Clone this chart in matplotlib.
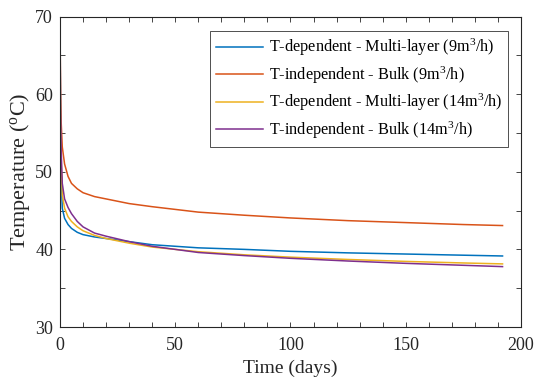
import matplotlib
matplotlib.use("Agg")
import matplotlib.pyplot as plt
from matplotlib.ticker import MultipleLocator

plt.rcParams["font.family"] = ["Liberation Serif", "DejaVu Serif"]
plt.rcParams["mathtext.fontset"] = "custom"
plt.rcParams["mathtext.rm"] = "Liberation Serif"
plt.rcParams["mathtext.it"] = "Liberation Serif:italic"

# time axis (days) shared by the curves
days = [0, 0.25, 0.5, 1, 2, 3.5, 5, 7.5, 10, 15, 20, 30, 40, 60, 80, 100, 125, 150, 175, 192]

dep_multi_9 = [70, 55, 50, 45.3, 44.0, 43.2, 42.7, 42.2, 41.9, 41.6, 41.4, 41.0, 40.6, 40.2,
               40.0, 39.75, 39.55, 39.4, 39.25, 39.15]
indep_bulk_9 = [70, 60, 56.5, 53.2, 51.0, 49.4, 48.5, 47.8, 47.3, 46.8, 46.5, 45.9, 45.5, 44.8,
                44.4, 44.05, 43.7, 43.45, 43.2, 43.07]
dep_multi_14 = [70, 56, 51.5, 47.0, 45.3, 44.2, 43.6, 42.9, 42.4, 41.8, 41.4, 40.8, 40.3, 39.7,
                39.3, 39.0, 38.7, 38.45, 38.25, 38.13]
# bulk 14 m3/h run starts from the 30 C ground temperature
days_bulk_14 = [0] + days
indep_bulk_14 = [30, 70, 58, 53, 48.5, 46.5, 45.4, 44.6, 43.6, 42.9, 42.1, 41.7, 41.0, 40.4, 39.6,
                 39.2, 38.85, 38.5, 38.2, 37.95, 37.78]

labels = [
    "T-dependent - Multi-layer (9m$^3$/h)",
    "T-independent - Bulk (9m$^3$/h)",
    "T-dependent - Multi-layer (14m$^3$/h)",
    "T-independent - Bulk (14m$^3$/h)",
]
colors = ["#0072BD", "#D95319", "#EDB120", "#7E2F8E"]

fig = plt.figure(figsize=(5.35, 3.83), dpi=100)
ax = fig.add_axes([0.1121, 0.1462, 0.8617, 0.8107])

ax.plot(days, dep_multi_9, color=colors[0], lw=1.1, label=labels[0])
ax.plot(days, indep_bulk_9, color=colors[1], lw=1.1, label=labels[1])
ax.plot(days, dep_multi_14, color=colors[2], lw=1.1, label=labels[2])
ax.plot(days_bulk_14, indep_bulk_14, color=colors[3], lw=1.1, label=labels[3])

ax.set_xlim(0, 200)
ax.set_ylim(30, 70)
ax.xaxis.set_major_locator(MultipleLocator(50))
ax.xaxis.set_minor_locator(MultipleLocator(10))
ax.yaxis.set_major_locator(MultipleLocator(10))
ax.yaxis.set_minor_locator(MultipleLocator(5))
ax.tick_params(which="both", direction="in", top=True, right=True, labelsize=13,
               width=0.6, length=3.6, color="#262626", labelcolor="#262626")
ax.tick_params(axis="x", pad=7.5)
ax.tick_params(axis="y", pad=5)
for s in ax.spines.values():
    s.set_linewidth(0.8)
    s.set_color("#262626")

ax.set_xlabel("Time (days)", fontsize=14, labelpad=4, color="#262626")
ax.set_ylabel("Temperature ($^{\\rm o}$C)", fontsize=16, labelpad=2, color="#262626")

leg = ax.legend(loc="upper right", bbox_to_anchor=(0.9718, 0.952), borderaxespad=0,
                fontsize=11.7, handlelength=2.9, handletextpad=0.35, fancybox=False,
                framealpha=1, edgecolor="#333333", labelspacing=0.38, borderpad=0.35)
leg.get_frame().set_linewidth(0.6)

fig.savefig("out.png", dpi=100)
